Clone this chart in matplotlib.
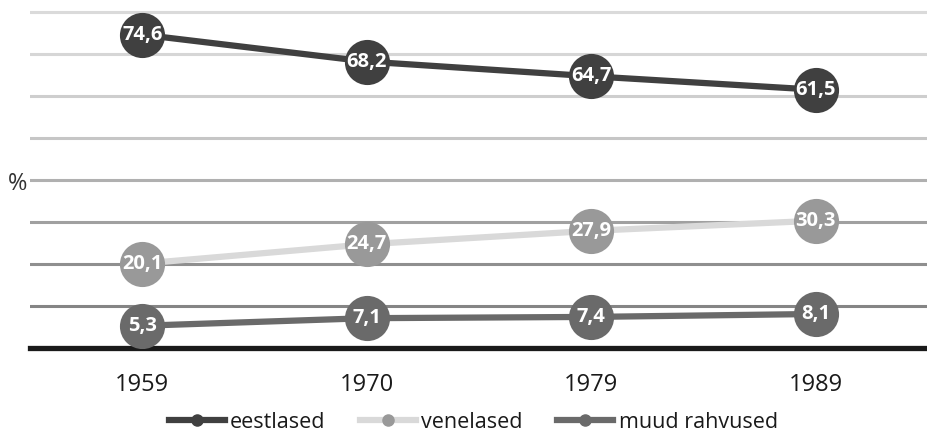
import matplotlib
matplotlib.use("Agg")
import matplotlib.pyplot as plt
from matplotlib.lines import Line2D

plt.rcParams['font.family'] = ['Open Sans', 'DejaVu Sans']

# data
years = ["1959", "1970", "1979", "1989"]
eestlased = [74.6, 68.2, 64.7, 61.5]
venelased = [20.1, 24.7, 27.9, 30.3]
muud = [5.3, 7.1, 7.4, 8.1]
names = ["eestlased", "venelased", "muud rahvused"]

grid_vals = [10, 20, 30, 40, 50, 60, 70, 80]
grid_cols = ["#858585", "#8f8f8f", "#a0a0a0", "#b0b0b0",
             "#c6c6c6", "#cecece", "#d6d6d6", "#dadada"]

fig = plt.figure(figsize=(9.28, 4.34), dpi=100)
ax = fig.add_axes([30/928, 1 - 348/434, 1 - 30/928, (348 - 3.6)/434])

x = list(range(len(years)))
ax.set_xlim(-0.5, 3.5)
ax.set_ylim(0, 82)

for v, c in zip(grid_vals, grid_cols):
    ax.axhline(v, color=c, lw=2.2, zorder=1)
ax.axhline(0, color="#1a1a1a", lw=3.8, zorder=2, clip_on=False)

series = [
    (eestlased, "#404040", "#404040"),
    (venelased, "#d9d9d9", "#999999"),
    (muud, "#6a6a6a", "#6a6a6a"),
]
for vals, lc, mc in series:
    ax.plot(x, vals, color=lc, lw=4.5, zorder=3, solid_capstyle="butt")
    ax.plot(x, vals, "o", color=mc, ms=32.5, mec="none", zorder=4)
    for xi, v in zip(x, vals):
        ax.text(xi, v, f"{v:.1f}".replace(".", ","), color="white",
                ha="center", va="center", fontsize=14.5, fontweight="bold",
                zorder=5)

for s in ax.spines.values():
    s.set_visible(False)
ax.set_yticks([])
ax.set_xticks(x)
ax.set_xticklabels(years, fontsize=17, color="#1a1a1a")
ax.tick_params(axis="x", length=0, pad=18)

fig.text(18/928, 1 - 184/434, "%", fontsize=17, color="#333333",
         ha="center", va="center")

handles = [Line2D([], [], color=lc, lw=4.5, marker="o", ms=8,
                  mfc=mc, mec=mc) for _, lc, mc in series]
fig.legend(handles, names, loc="center", bbox_to_anchor=(0.51, 1 - 422/434),
           ncol=3, frameon=False, fontsize=15.5, handlelength=2.6,
           handletextpad=0.25, columnspacing=1.6, labelcolor="#1a1a1a")

fig.savefig("out.png", dpi=100)
